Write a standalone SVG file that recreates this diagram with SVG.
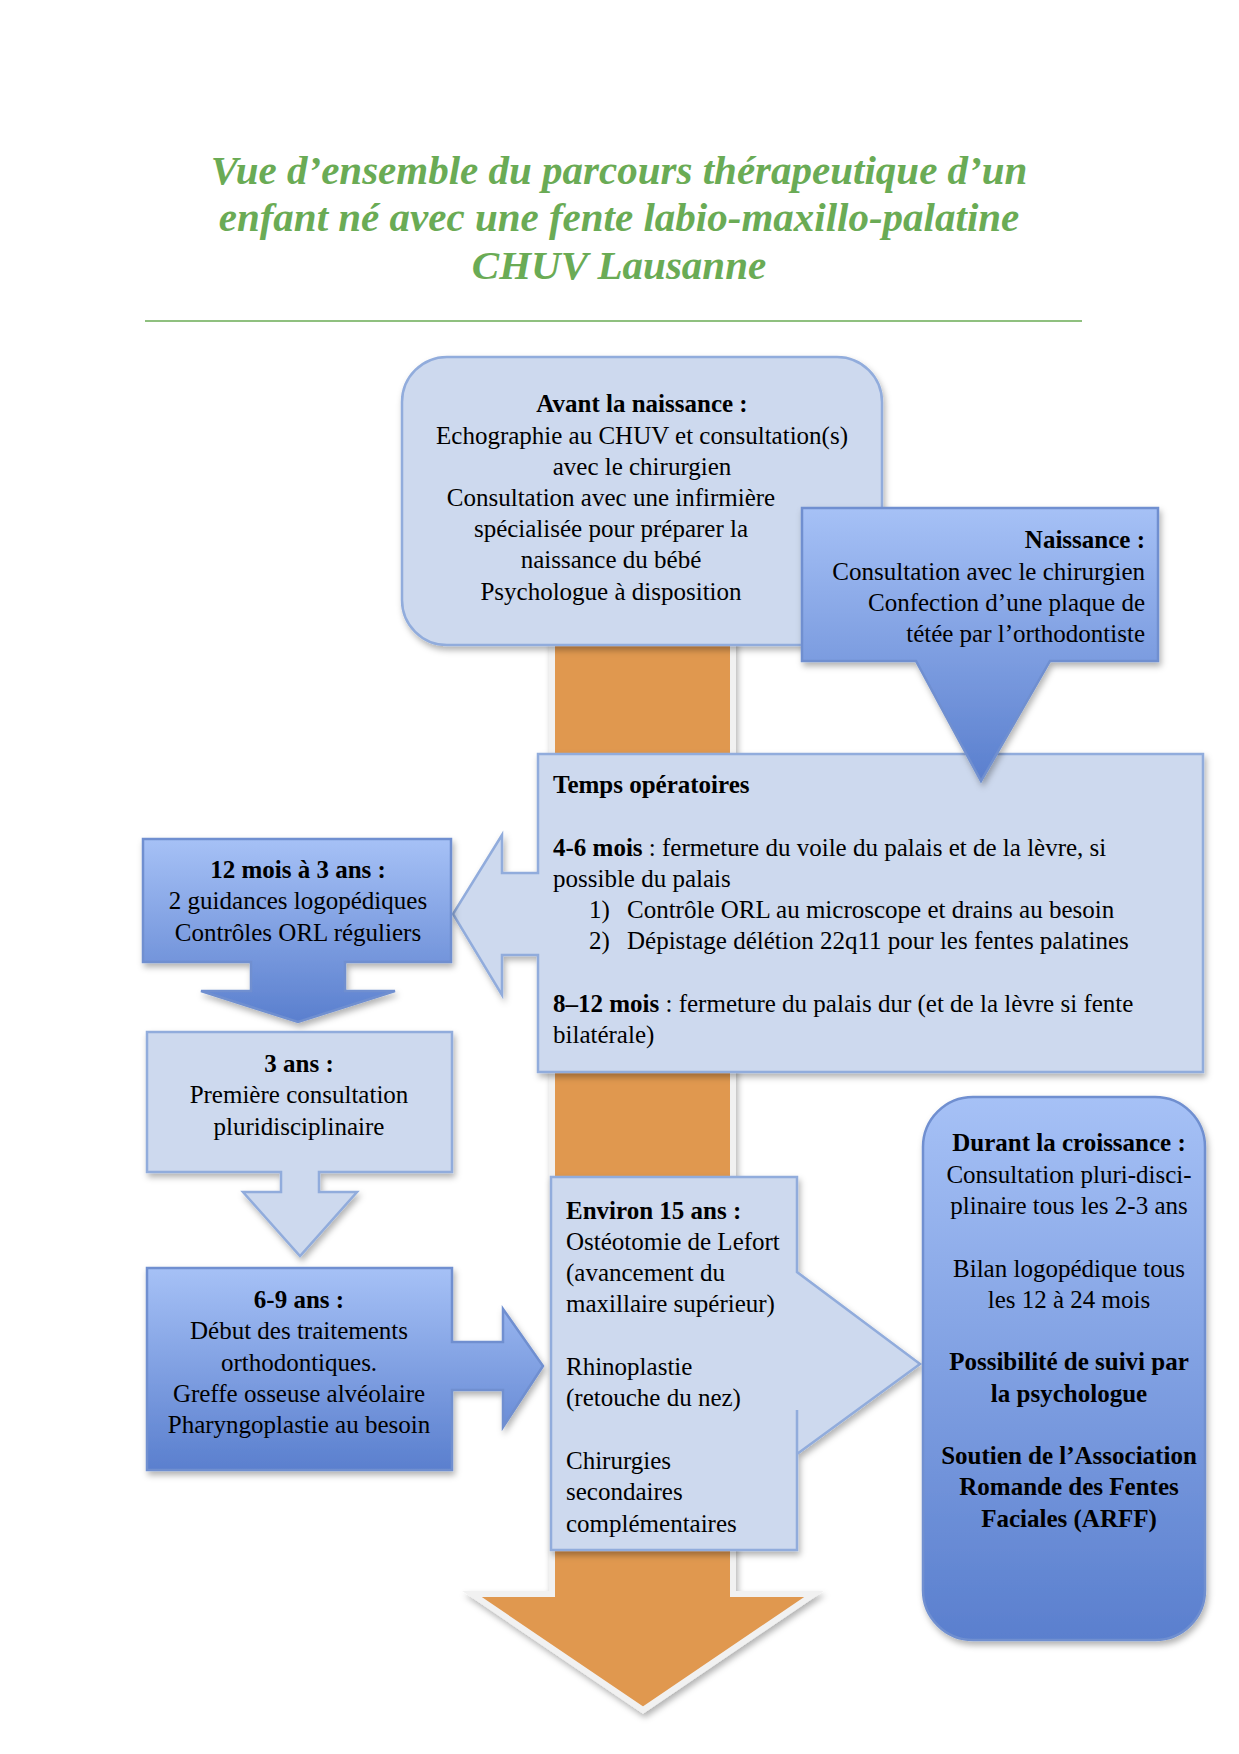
<svg xmlns="http://www.w3.org/2000/svg" width="1239" height="1754" viewBox="0 0 1239 1754">
<defs>
<style>
.t{font-family:"Liberation Serif","Times New Roman",serif;font-size:25px;fill:#000}
.c{text-anchor:middle}
.e{text-anchor:end}
.b{font-weight:bold}
.title{font-family:"Liberation Serif","Times New Roman",serif;font-size:41px;font-weight:bold;font-style:italic;fill:#6aab55;text-anchor:middle}
.light{fill:#cdd9ee;stroke:#91acdc;stroke-width:2.5}
.dark{fill:url(#gd);stroke:#6f8fd0;stroke-width:2.5}
</style>
<linearGradient id="gd" x1="0" y1="0" x2="0" y2="1">
<stop offset="0" stop-color="#a6c1f6"/>
<stop offset="1" stop-color="#5a7fce"/>
</linearGradient>
<filter id="sh" x="-10%" y="-10%" width="125%" height="125%">
<feDropShadow dx="2" dy="4" stdDeviation="3" flood-color="#000" flood-opacity="0.3"/>
</filter>
</defs>
<rect width="1239" height="1754" fill="#fff"/>

<g id="title">
<text class="title" x="619" y="184">Vue d’ensemble du parcours thérapeutique d’un</text>
<text class="title" x="619" y="231">enfant né avec une fente labio-maxillo-palatine</text>
<text class="title" x="619" y="279">CHUV Lausanne</text>
<line x1="145" y1="321" x2="1082" y2="321" stroke="#6aab55" stroke-width="1.5"/>
</g>

<g id="connectors">
<path id="timeline" d="M552,600 H733 V1594 H814 L643,1710 L472,1594 H552 Z" fill="#e0984f" stroke="#f1f1f1" stroke-width="6" stroke-linejoin="miter" filter="url(#sh)"/>
</g>

<g id="avant">
<rect class="light" x="402" y="357" width="480" height="288" rx="45" ry="45" filter="url(#sh)"/>
<text class="t c b" x="642" y="412">Avant la naissance :</text>
<text class="t c" x="642" y="444">Echographie au CHUV et consultation(s)</text>
<text class="t c" x="642" y="475">avec le chirurgien</text>
<text class="t c" x="611" y="506">Consultation avec une infirmière</text>
<text class="t c" x="611" y="537">spécialisée pour préparer la</text>
<text class="t c" x="611" y="568">naissance du bébé</text>
<text class="t c" x="611" y="600">Psychologue à disposition</text>
</g>

<g id="temps">
<path class="light" d="M538,754 H1203 V1072 H538 V955 H502 V995 L453,914 L502,835 V873 H538 Z" filter="url(#sh)"/>
<text class="t b" x="553" y="793">Temps opératoires</text>
<text class="t" x="553" y="856"><tspan class="b">4-6 mois</tspan> : fermeture du voile du palais et de la lèvre, si</text>
<text class="t" x="553" y="887">possible du palais</text>
<text class="t" x="589" y="918">1)</text>
<text class="t" x="627" y="918">Contrôle ORL au microscope et drains au besoin</text>
<text class="t" x="589" y="949">2)</text>
<text class="t" x="627" y="949">Dépistage délétion 22q11 pour les fentes palatines</text>
<text class="t" x="553" y="1012"><tspan class="b">8–12 mois</tspan> : fermeture du palais dur (et de la lèvre si fente</text>
<text class="t" x="553" y="1043">bilatérale)</text>
</g>

<g id="naissance">
<path class="dark" d="M802,508 H1158 V661 H1050 L981,781 L916,661 H802 Z" filter="url(#sh)"/>
<text class="t e b" x="1145" y="548">Naissance :</text>
<text class="t e" x="1145" y="580">Consultation avec le chirurgien</text>
<text class="t e" x="1145" y="611">Confection d’une plaque de</text>
<text class="t e" x="1145" y="642">tétée par l’orthodontiste</text>
</g>

<g id="m12">
<path class="dark" d="M143,839 H451 V962 H345 V991 H395 L298,1022 L201,991 H251 V962 H143 Z" filter="url(#sh)"/>
<text class="t c b" x="298" y="878">12 mois à 3 ans :</text>
<text class="t c" x="298" y="909">2 guidances logopédiques</text>
<text class="t c" x="298" y="941">Contrôles ORL réguliers</text>
</g>

<g id="a3">
<path class="light" d="M147,1032 H452 V1172 H319 V1192 H357 L300,1256 L243,1192 H281 V1172 H147 Z" filter="url(#sh)"/>
<text class="t c b" x="299" y="1072">3 ans :</text>
<text class="t c" x="299" y="1103">Première consultation</text>
<text class="t c" x="299" y="1135">pluridisciplinaire</text>
</g>

<g id="a69">
<path class="dark" d="M147,1268 H452 V1342 H503 V1309 L543,1366 L503,1427 V1390 H452 V1470 H147 Z" filter="url(#sh)"/>
<text class="t c b" x="299" y="1308">6-9 ans :</text>
<text class="t c" x="299" y="1339">Début des traitements</text>
<text class="t c" x="299" y="1371">orthodontiques.</text>
<text class="t c" x="299" y="1402">Greffe osseuse alvéolaire</text>
<text class="t c" x="299" y="1433">Pharyngoplastie au besoin</text>
</g>

<g id="environ">
<path class="light" d="M551,1177 H797 V1272 L920,1364 L797,1454 V1410 V1550 H551 Z" filter="url(#sh)"/>
<text class="t b" x="566" y="1219">Environ 15 ans :</text>
<text class="t" x="566" y="1250">Ostéotomie de Lefort</text>
<text class="t" x="566" y="1281">(avancement du</text>
<text class="t" x="566" y="1312">maxillaire supérieur)</text>
<text class="t" x="566" y="1375">Rhinoplastie</text>
<text class="t" x="566" y="1406">(retouche du nez)</text>
<text class="t" x="566" y="1469">Chirurgies</text>
<text class="t" x="566" y="1500">secondaires</text>
<text class="t" x="566" y="1532">complémentaires</text>
</g>

<g id="durant">
<rect class="dark" x="923" y="1097" width="282" height="543" rx="50" ry="50" filter="url(#sh)"/>
<text class="t c b" x="1069" y="1151">Durant la croissance :</text>
<text class="t c" x="1069" y="1183">Consultation pluri-disci-</text>
<text class="t c" x="1069" y="1214">plinaire tous les 2-3 ans</text>
<text class="t c" x="1069" y="1277">Bilan logopédique tous</text>
<text class="t c" x="1069" y="1308">les 12 à 24 mois</text>
<text class="t c b" x="1069" y="1370">Possibilité de suivi par</text>
<text class="t c b" x="1069" y="1402">la psychologue</text>
<text class="t c b" x="1069" y="1464">Soutien de l’Association</text>
<text class="t c b" x="1069" y="1495">Romande des Fentes</text>
<text class="t c b" x="1069" y="1527">Faciales (ARFF)</text>
</g>
</svg>
